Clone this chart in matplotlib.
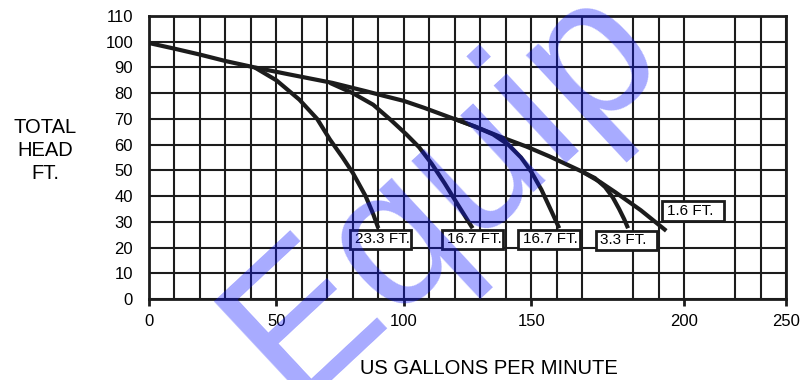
import matplotlib
matplotlib.use("Agg")
import matplotlib.pyplot as plt
from matplotlib.patches import Rectangle

plt.rcParams['font.family'] = ['Liberation Sans', 'DejaVu Sans']

# grid columns, one per 10 gpm cell (the chart has no line at 180 and 220)
grid_x = [0, 10, 20, 30, 40, 50, 60, 70, 80, 90, 100, 110, 120, 130, 140,
          150, 160, 170, 190, 200, 210, 230, 240, 250]
grid_y = [0, 10, 20, 30, 40, 50, 60, 70, 80, 90, 100, 110]
tick_pos = [0, 50, 100, 150, 210, 250]
tick_labels = ['0', '50', '100', '150', '200', '250']

# main curve (1.6 ft suction lift)
main_x = [0, 10, 20, 30, 41.5, 55, 72, 85, 92, 100, 108, 117, 128, 138, 148, 157, 170, 177, 183, 188, 193, 198, 203]
main_y = [99.5, 97.3, 95, 92.5, 90, 87.3, 84, 80.8, 79, 77, 74.3, 71, 67, 63, 59.3, 55.5, 49.5, 45.5, 41.5, 38, 34.5, 30.5, 26.5]

# branches leaving the main curve
b233_x = [41.5, 50, 59, 66, 71, 76, 80, 85, 88, 90]
b233_y = [90, 85, 77.5, 70, 62, 55, 49, 40, 33, 27.5]
b167a_x = [71, 80, 88, 95, 101, 106, 111, 116, 121, 127]
b167a_y = [84, 80, 75.5, 69.5, 64, 59, 52.5, 45, 37, 27.5]
b167b_x = [120, 128, 135, 141, 146, 150, 154, 158, 161]
b167b_y = [70, 67, 64, 60, 55, 49.5, 42.5, 34, 27.5]
b33_x = [170, 175, 179, 182, 184.5, 186.5, 188]
b33_y = [49.5, 47, 43.5, 39.5, 35, 31, 27.5]

label_text = ['23.3 FT.', '16.7 FT.', '16.7 FT.', '3.3 FT.', '1.6 FT.']
label_x = [79, 115, 145, 175.3, 201.5]
label_y = [19.4, 19.4, 19.4, 19.0, 30.4]

ink = '#1c1c1c'

fig = plt.figure(figsize=(8.01, 3.8), dpi=100)
ax = fig.add_axes([0.186, 0.2132, 0.7953, 0.7447])
ax.set_xlim(0, 250)
ax.set_ylim(0, 110)

ax.vlines(grid_x, 0, 110, color=ink, lw=1.5, zorder=1)
ax.hlines(grid_y, 0, 250, color=ink, lw=1.5, zorder=1)
for s in ax.spines.values():
    s.set_linewidth(2.0)
    s.set_color(ink)

ax.set_xticks(tick_pos, tick_labels)
ax.set_yticks(grid_y)
ax.tick_params(axis='x', length=5, width=2, pad=6, labelsize=12, color=ink)
ax.tick_params(axis='y', length=0, pad=11.5, labelsize=12)

for xs, ys in [(main_x, main_y), (b233_x, b233_y), (b167a_x, b167a_y),
               (b167b_x, b167b_y), (b33_x, b33_y)]:
    ax.plot(xs, ys, color=ink, lw=3, solid_capstyle='butt', zorder=3)

for t, lx, ly in zip(label_text, label_x, label_y):
    ax.add_patch(Rectangle((lx, ly), 24, 7.6, facecolor='white', edgecolor=ink,
                           lw=2, zorder=4))
    ax.text(lx + 1.8, ly + 3.8, t, ha='left', va='center', fontsize=11, zorder=5)

fig.text(489 / 801, 1 - 368 / 380, 'US GALLONS PER MINUTE', ha='center',
         va='center', fontsize=14.5)
fig.text(45 / 801, 1 - 150.5 / 380, 'TOTAL\nHEAD\nFT.', ha='center', va='center',
         multialignment='center', fontsize=14.5, linespacing=1.25)

# translucent watermark across the plot
fig.text(292 / 801, 1 - 402 / 380, 'Equip', rotation=43, rotation_mode='anchor',
         ha='left', va='baseline', fontsize=144, color=(0.05, 0.08, 1.0),
         alpha=0.36, zorder=10)

fig.savefig('out.png', dpi=100)
